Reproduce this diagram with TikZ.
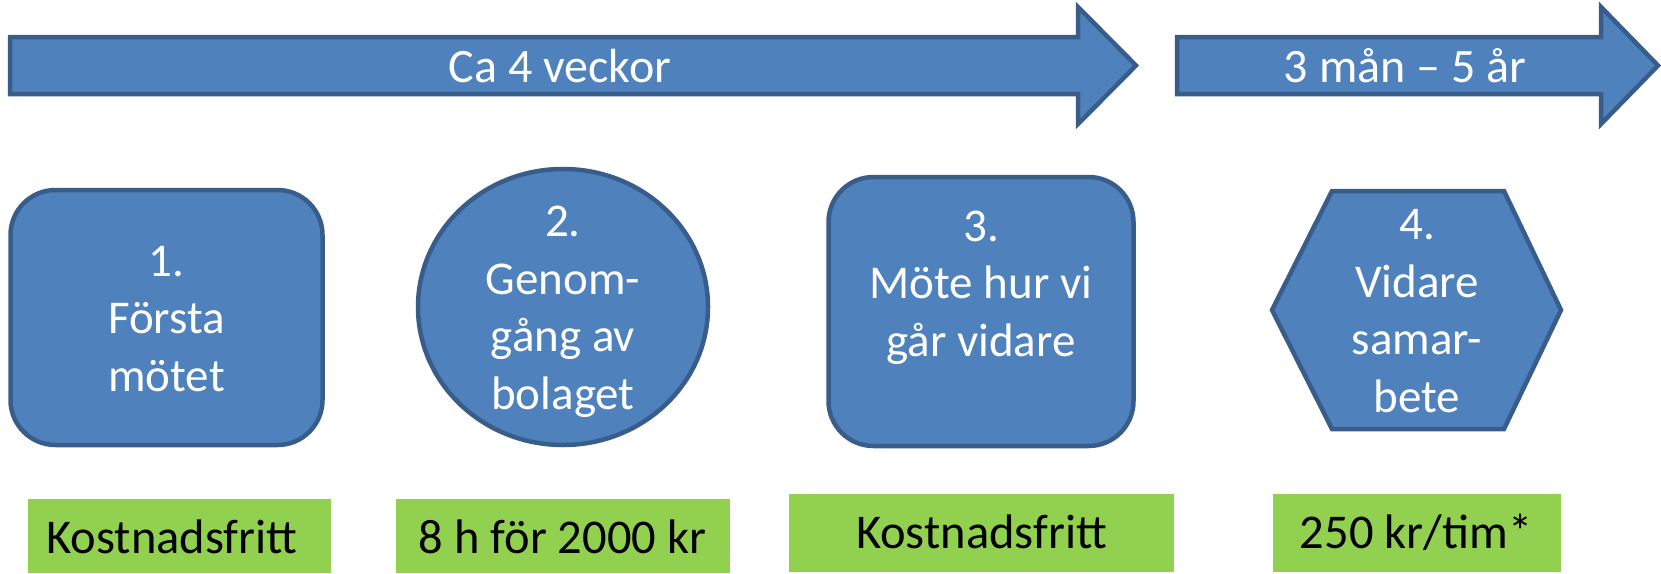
\documentclass[tikz,border=0pt]{standalone}
\usepackage{fontspec}
\setmainfont{Carlito}
\usetikzlibrary{shapes.geometric}
\definecolor{pblue}{HTML}{4F81BD}
\definecolor{pborder}{HTML}{385D8A}
\definecolor{pgreen}{HTML}{92D050}
\tikzset{
  bluefill/.style={fill=pblue, draw=pborder, line width=4.5pt, line join=miter},
  roundbox/.style={bluefill, rounded corners=45pt, inner sep=0pt, minimum width=#1},
  greenbox/.style={fill=pgreen, draw=none, inner sep=0pt},
  wtext/.style={text=white, align=center, inner sep=0pt, anchor=base, font=\fontsize{47}{57.5}\selectfont},
  atext/.style={text=white, inner sep=0pt, anchor=base, font=\fontsize{48}{58}\selectfont},
  gtext/.style={text=black, inner sep=0pt, anchor=base, font=\fontsize{48.5}{58}\selectfont}
}
\begin{document}
\begin{tikzpicture}[x=1pt,y=-1pt]
\useasboundingbox (0,0) rectangle (1661,573);
% top arrows
\draw[bluefill] (10,37) -- (1078,37) -- (1078,7) -- (1136,65.5) -- (1078,124) -- (1078,94) -- (10,94) -- cycle;
\node[atext] (t1) at (560,82) {Ca 4 veckor};
\draw[bluefill] (1177,37) -- (1601,37) -- (1601,7) -- (1658,65.5) -- (1601,124) -- (1601,94) -- (1177,94) -- cycle;
\node[atext] (t2) at (1405,82) {3 mån – 5 år};
% step shapes (text nodes anchored at the baseline of their last line)
\node[roundbox=312pt, minimum height=255pt] (s1) at (166.5,317.5) {};
\node[wtext] (l1) at (166.5,391) {1.\\Första\\mötet};
\node[bluefill, ellipse, inner sep=0pt, minimum width=290pt, minimum height=276pt] (s2) at (563,307) {};
\node[wtext] (l2) at (563,409) {2.\\Genom-\\gång av\\bolaget};
\node[roundbox=305pt, minimum height=269pt] (s3) at (981,311.5) {};
\node[wtext] (l3) at (981,356) {3.\\Möte hur vi\\går vidare};
\coordinate (h1) at (1272,310);
\coordinate (h2) at (1332,191);
\coordinate (h3) at (1504,191);
\coordinate (h4) at (1561,310);
\coordinate (h5) at (1504,429);
\coordinate (h6) at (1332,429);
\draw[bluefill] (h1) -- (h2) -- (h3) -- (h4) -- (h5) -- (h6) -- cycle;
\node[wtext] (l4) at (1417,412) {4.\\Vidare\\samar-\\bete};
% price boxes
\node[greenbox, minimum width=303pt, minimum height=74pt] (g1) at (179.5,536) {};
\node[gtext] (p1) at (172,553) {Kostnadsfritt};
\node[greenbox, minimum width=334pt, minimum height=74pt] (g2) at (563,536) {};
\node[gtext] (p2) at (562.5,553) {8 h för 2000 kr};
\node[greenbox, minimum width=385pt, minimum height=78pt] (g3) at (981.5,533) {};
\node[gtext] (p3) at (981.5,548) {Kostnadsfritt};
\node[greenbox, minimum width=288pt, minimum height=78pt] (g4) at (1417,533) {};
\node[gtext] (p4) at (1416,548) {250 kr/tim*};
\end{tikzpicture}
\end{document}
